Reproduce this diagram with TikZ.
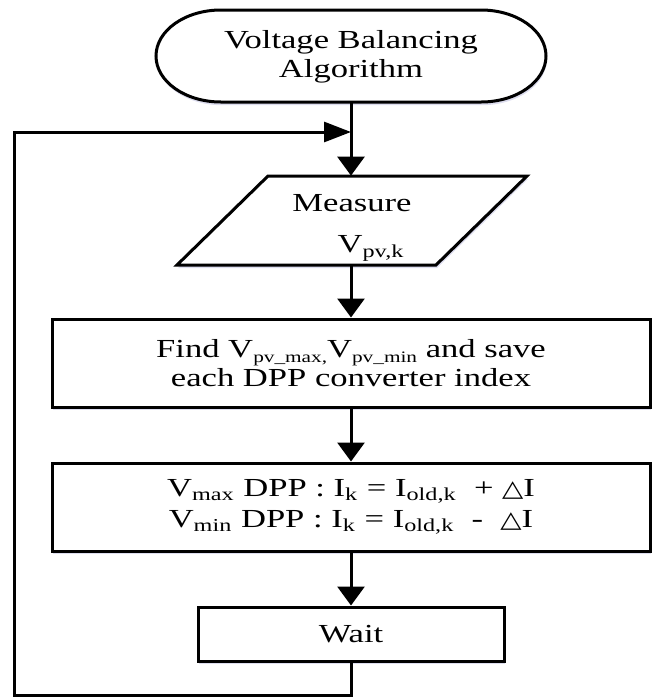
\documentclass[tikz,border=0pt]{standalone}
\usepackage{fontspec}
\setmainfont[FakeStretch=1.33]{Liberation Serif}
\newfontfamily\symf[FakeStretch=1.2]{DejaVu Sans}
\usetikzlibrary{arrows.meta,shadows}
\newcommand\smsub[1]{\raisebox{-2.6pt}{\fontsize{8}{8}\selectfont #1}}
\begin{document}
\begin{tikzpicture}[x=0.5pt,y=-0.5pt,
  every node/.style={font=\fontsize{13}{14.5}\selectfont, align=center, inner sep=0pt},
  boxline/.style={line width=1.5pt, draw=black},
  softshadow/.style={drop shadow={shadow xshift=0.4pt, shadow yshift=-1.6pt, fill=blue!35!gray, opacity=0.2}},
  flowbox/.style={boxline, fill=white, rectangle, softshadow},
  conn/.style={line width=1.5pt, -{Triangle[length=9.5pt,width=13.5pt]}},
  hconn/.style={line width=1.5pt, -{Triangle[length=13.5pt,width=10pt]}}
]
\useasboundingbox (0,0) rectangle (659,697);

% terminal outline (elliptic ends)
\draw[boxline, fill=white, softshadow]
  (481,10) arc[start angle=90, end angle=-90, x radius=32.5pt, y radius=23pt]
  -- (221,102) arc[start angle=270, end angle=90, x radius=32.5pt, y radius=23pt]
  -- cycle;
\node[minimum width=195pt, minimum height=46pt] (start) at (351,57) {Voltage Balancing\\Algorithm};

% parallelogram outline
\draw[boxline, fill=white, softshadow]
  (268,176) -- (527,176) -- (436,265) -- (177,265) -- cycle;
\node[minimum width=175pt, minimum height=44.5pt] (meas) at (351,220.5) {};
\node (meastxt) at (352,228) {Measure\\[6pt]\hspace*{19pt}V\textsubscript{pv,k}};

% process boxes
\node[flowbox, minimum width=299pt, minimum height=44pt] (find) at (351,363)
  {Find V\smsub{pv\_max,}V\smsub{pv\_min} and save\\each DPP converter index};
\node[flowbox, minimum width=299pt, minimum height=44pt] (adj) at (351,507)
  {V\textsubscript{max} DPP : I\textsubscript{k} = I\textsubscript{old,k}\ \ + {\symf\fontsize{11.5}{11.5}\selectfont △}I\\[1pt]
   V\textsubscript{min} DPP : I\textsubscript{k} = I\textsubscript{old,k}\ \ -\ \ {\symf\fontsize{11.5}{11.5}\selectfont △}I};
\node[flowbox, minimum width=153pt, minimum height=27pt] (wait) at (351,634) {Wait};

% feedback corner points
\coordinate (c2) at (14,695);
\coordinate (m) at (351,132);

% connectors
\draw[conn] (start.south) -- (meas.north);
\draw[conn] (meas.south) -- (find.north);
\draw[conn] (find.south) -- (adj.north);
\draw[conn] (adj.south) -- (wait.north);
\draw[hconn] (wait.south) |- (c2) |- (m);
\end{tikzpicture}
\end{document}
